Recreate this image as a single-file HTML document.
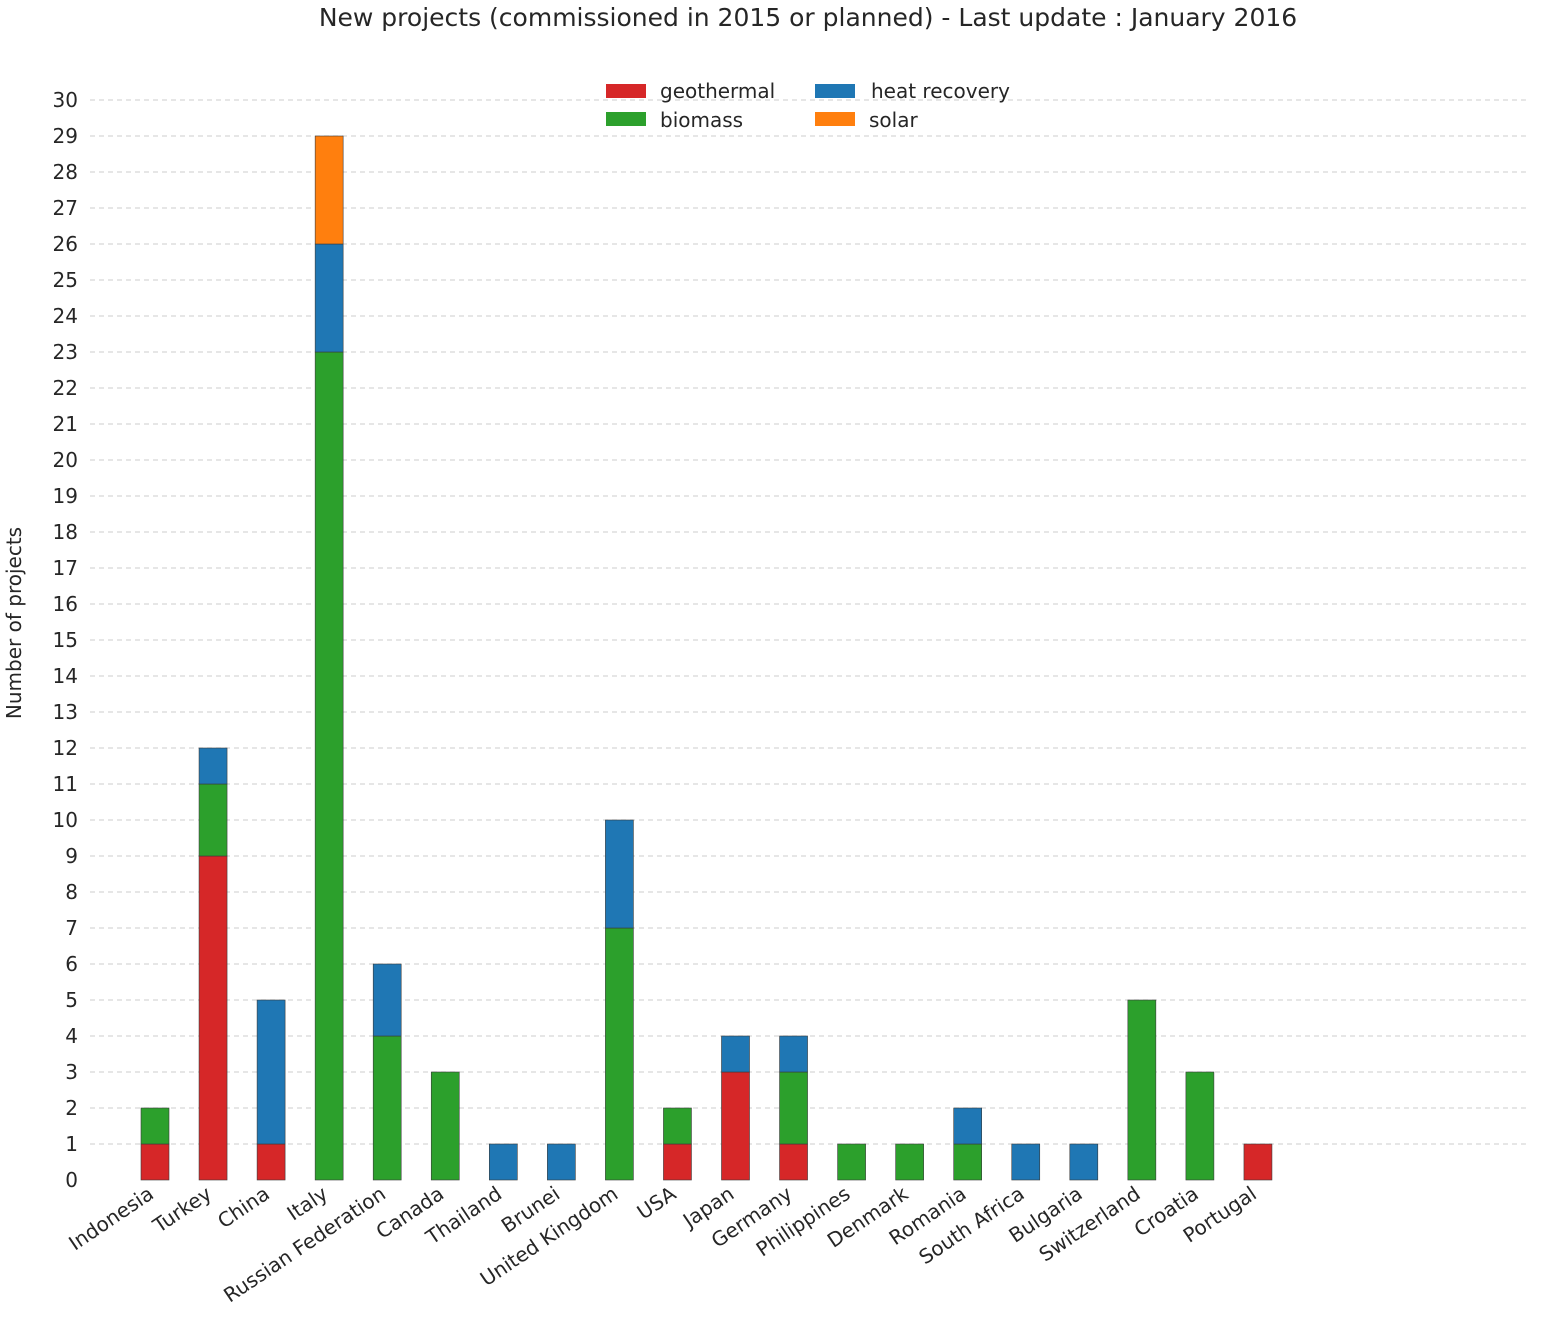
<!DOCTYPE html>
<html><head><meta charset="utf-8"><style>body{margin:0;background:#fff}svg{display:block}text{font-family:"DejaVu Sans","Liberation Sans",sans-serif;fill:#262626}</style></head>
<body>
<svg width="1541" height="1318" xmlns="http://www.w3.org/2000/svg">
<text x="808" y="26" font-size="25" text-anchor="middle">New projects (commissioned in 2015 or planned) - Last update : January 2016</text>
<text transform="translate(21,623) rotate(-90)" font-size="20" text-anchor="middle">Number of projects</text>
<g id="grid"></g>
<g id="bars"></g>
<g id="xl"></g>
<g font-size="20">
<rect x="606" y="84" width="40" height="14" fill="#d62728"/><text x="660" y="98">geothermal</text>
<rect x="606" y="112" width="40" height="14" fill="#2ca02c"/><text x="660" y="127">biomass</text>
<rect x="815" y="84" width="40" height="14" fill="#1f77b4"/><text x="871" y="98">heat recovery</text>
<rect x="815" y="112" width="40" height="14" fill="#ff7f0e"/><text x="869" y="127">solar</text>
</g>
<script>
var ns="http://www.w3.org/2000/svg";
function el(p,t,a,txt){var e=document.createElementNS(ns,t);for(var k in a)e.setAttribute(k,a[k]);if(txt!==undefined)e.textContent=txt;p.appendChild(e);return e;}
var g=document.getElementById('grid');
for(var i=0;i<=30;i++){var y=1180-36*i;
 if(i>0)el(g,'line',{x1:90,x2:1530,y1:y,y2:y,stroke:'#cccccc','stroke-dasharray':'5,4','stroke-width':0.9});
 el(g,'text',{x:78,y:y+7,'font-size':20,'text-anchor':'end'},String(i));}
var d=[["Indonesia",1,1,0,0],["Turkey",9,2,1,0],["China",1,0,4,0],["Italy",0,23,3,3],["Russian Federation",0,4,2,0],["Canada",0,3,0,0],["Thailand",0,0,1,0],["Brunei",0,0,1,0],["United Kingdom",0,7,3,0],["USA",1,1,0,0],["Japan",3,0,1,0],["Germany",1,2,1,0],["Philippines",0,1,0,0],["Denmark",0,1,0,0],["Romania",0,1,1,0],["South Africa",0,0,1,0],["Bulgaria",0,0,1,0],["Switzerland",0,5,0,0],["Croatia",0,3,0,0],["Portugal",1,0,0,0]];
var cols=["#d62728","#2ca02c","#1f77b4","#ff7f0e"];
var b=document.getElementById('bars'),xl=document.getElementById('xl');
d.forEach(function(r,i){var x=141+58.05*i,base=0;
 for(var j=0;j<4;j++){if(r[j+1]>0){el(b,'rect',{x:x,y:1180-36*(base+r[j+1]),width:28,height:36*r[j+1],fill:cols[j],stroke:'#3a3a3a','stroke-width':0.6});base+=r[j+1];}}
 var cx=x+14,cy=1197;
 el(xl,'text',{x:cx,y:cy,'font-size':20,'text-anchor':'end',transform:'rotate(-34 '+cx+' '+cy+')'},r[0]);
});
</script>
</svg>
</body></html>
